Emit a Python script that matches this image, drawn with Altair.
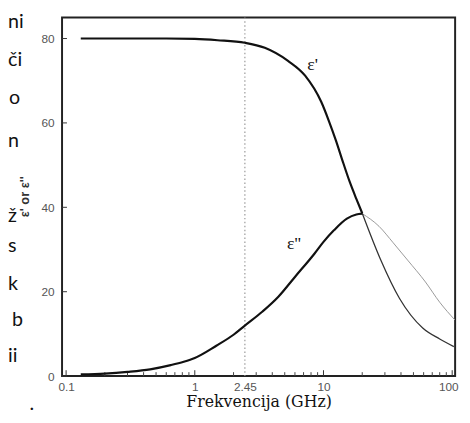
import altair as alt
import pandas as pd

# ---- data ----
# epsilon' (real part), frequency in GHz
f_eps1 = [0.13, 0.3, 0.6, 1.0, 1.5, 2.45, 3.5, 5.3, 7.2, 9.6, 11, 12.5, 14, 16, 18, 20]
v_eps1 = [80.0, 80.0, 80.0, 79.9, 79.6, 79.0, 77.8, 74.7, 71.2, 65.0, 60.5, 55.8, 51.2, 46.0, 42.0, 38.6]
f_eps1_tail = [20, 27.7, 39, 59, 80, 103]
v_eps1_tail = [38.6, 27.7, 18.4, 11.4, 8.8, 7.0]

# epsilon'' (imaginary part)
f_eps2 = [0.13, 0.2, 0.3, 0.45, 0.65, 0.82, 1.0, 1.47, 2.0, 2.41, 3.36, 4.46, 6.0, 8.5, 10, 12.1, 15.2, 18, 20]
v_eps2 = [0.4, 0.6, 1.0, 1.6, 2.6, 3.4, 4.3, 7.2, 9.8, 11.8, 15.3, 18.8, 23.5, 29.0, 31.8, 34.6, 37.3, 38.3, 38.5]
f_eps2_tail = [20, 27, 34.8, 45, 62, 80, 105]
v_eps2_tail = [38.5, 35.5, 31.6, 27.5, 22.3, 17.5, 13.3]

x_labels = [0.1, 1, 2.45, 10, 100]
x_major = [0.1, 1, 10, 100]
x_minor = [0.2, 0.3, 0.4, 0.5, 0.6, 0.7, 0.8, 0.9,
           2, 3, 4, 5, 6, 7, 8, 9,
           20, 30, 40, 50, 60, 70, 80, 90]
y_ticks = [0, 20, 40, 60, 80]
marker_freq = [2.45]

left_fragments = ["ni", "či", "o", "n", "ž", "s", "k", "b", "ii", "."]
fragment_baselines = [25, 63, 102, 146, 222, 253, 291, 328, 365, 414]   # page y (layout)
fragment_x = [0, 0, 1, 0, 0, 0, 0, 4, 0, 22]                             # page x (layout)

W, H = 400, 365
PAD_L, PAD_T = 55, 6

xs = alt.Scale(type="log", domain=[0.093, 105.4], nice=False)
ys = alt.Scale(domain=[0, 85], nice=False, zero=False)

def df(f, v):
    return pd.DataFrame({"f": f, "v": v})

def line(f, v, color, width):
    return alt.Chart(df(f, v)).mark_line(color=color, strokeWidth=width, clip=True,
                                         interpolate="monotone").encode(
        x=alt.X("f:Q", scale=xs), y=alt.Y("v:Q", scale=ys))

base_axes = alt.Chart(df(f_eps1, v_eps1)).mark_point(opacity=0).encode(
    x=alt.X("f:Q", scale=xs,
            axis=alt.Axis(values=x_labels, format="~g", ticks=False, domain=False, grid=False,
                          labelColor="#555", labelFont="Liberation Sans", labelFontSize=12,
                          labelPadding=6, labelFlush=False,
                          labelOffset={"condition": {"test": "datum.value >= 100", "value": -4},
                                       "value": 0},
                          title="Frekvencija (GHz)", titleFont="DejaVu Serif",
                          titleFontSize=16, titleFontWeight="normal", titleColor="#111",
                          titleBaseline="alphabetic", titleY=31, titleX=W / 2)),
    y=alt.Y("v:Q", scale=ys,
            axis=alt.Axis(values=y_ticks, ticks=False, domain=False, grid=False,
                          labelColor="#555", labelFont="Liberation Sans", labelFontSize=12,
                          labelPadding=8,
                          title="ε' or ε''", titleFont="Liberation Sans", titleFontSize=13,
                          titleFontWeight="bold", titleColor="#333", titleAngle=270,
                          titleBaseline="middle", titleAlign="center",
                          titleX=25 - 63, titleY=196 - 14)),
)

dotted = alt.Chart(pd.DataFrame({"f": marker_freq})).mark_rule(
    color="#999", strokeWidth=1.2, strokeDash=[1.5, 2.5]).encode(x=alt.X("f:Q", scale=xs))

major_ticks = alt.Chart(pd.DataFrame({"f": x_major})).mark_rule(color="#333", strokeWidth=1).encode(
    x=alt.X("f:Q", scale=xs), y=alt.value(H), y2=alt.value(H - 6))
minor_ticks = alt.Chart(pd.DataFrame({"f": x_minor})).mark_rule(color="#444", strokeWidth=1).encode(
    x=alt.X("f:Q", scale=xs), y=alt.value(H), y2=alt.value(H - 4))
y_tick_marks = alt.Chart(pd.DataFrame({"v": y_ticks})).mark_rule(color="#333", strokeWidth=1).encode(
    y=alt.Y("v:Q", scale=ys), x=alt.value(0), x2=alt.value(5))

eps1_line = line(f_eps1, v_eps1, "#111", 2.2)
eps1_tail = line(f_eps1_tail, v_eps1_tail, "#333", 1.3)
eps2_line = line(f_eps2, v_eps2, "#111", 2.2)
eps2_tail = line(f_eps2_tail, v_eps2_tail, "#999", 1.0)

lab1 = alt.Chart(pd.DataFrame({"t": ["ε'"]})).mark_text(
    font="Liberation Serif", fontSize=18, color="#111").encode(
    text="t:N", x=alt.value(318 - 63), y=alt.value(62 - 14))
lab2 = alt.Chart(pd.DataFrame({"t": ["ε''"]})).mark_text(
    font="Liberation Serif", fontSize=18, color="#111").encode(
    text="t:N", x=alt.value(299 - 63), y=alt.value(245 - 14))

frag_layers = []
for t, yb, xl in zip(left_fragments, fragment_baselines, fragment_x):
    frag_layers.append(
        alt.Chart(pd.DataFrame({"t": [t]})).mark_text(
            font="Lato", fontSize=20, color="#111", align="left", baseline="alphabetic").encode(
            text="t:N", x=alt.value(xl - PAD_L), y=alt.value(yb - 8 - PAD_T))
    )

chart = alt.layer(
    base_axes, dotted, minor_ticks, major_ticks, y_tick_marks,
    eps2_tail, eps1_tail, eps2_line, eps1_line, lab1, lab2, *frag_layers
).properties(
    width=W, height=H,
    autosize=alt.AutoSizeParams(type="none"),
    padding={"left": PAD_L, "top": PAD_T, "right": 7, "bottom": 36},
).configure_view(stroke="#222", strokeWidth=2)

chart.save("out.html", embed_options={"renderer": "svg", "actions": False})
